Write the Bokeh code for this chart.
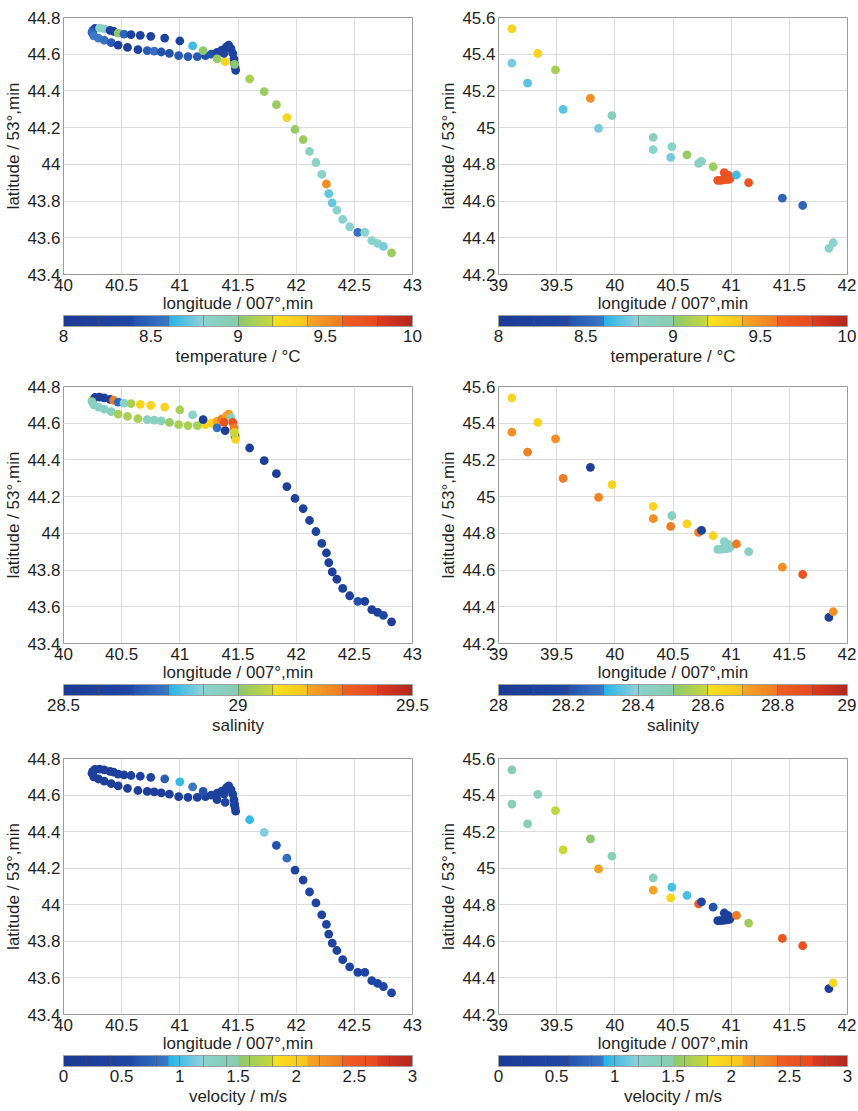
import numpy as np
from bokeh.plotting import figure
from bokeh.models import (ColumnDataSource, LinearColorMapper, ColorBar, FixedTicker,
                          PrintfTickFormatter, Title, Range1d)
from bokeh.layouts import column, row
from bokeh.embed import file_html
from bokeh.resources import INLINE

# ---------------- data: left track (longitude 40-43) ----------------
LEFT_LON = [40.25, 40.27, 40.31, 40.35, 40.40, 40.43, 40.47, 40.52, 40.58, 40.66, 40.75, 40.87, 41.00, 41.11,
            40.245, 40.26, 40.30, 40.35, 40.41, 40.47, 40.55, 40.64, 40.72, 40.78, 40.84, 40.91, 40.99, 41.07,
            41.15, 41.22, 41.27, 41.32, 41.36, 41.40, 41.42, 41.44, 41.455, 41.465, 41.47, 41.475, 41.48,
            41.20, 41.32, 41.39, 41.38, 41.47,
            41.60, 41.725, 41.83, 41.92, 41.99, 42.06, 42.115, 42.17, 42.22, 42.26, 42.28, 42.31, 42.35,
            42.40, 42.46, 42.53, 42.59, 42.65, 42.70, 42.75, 42.82]
LEFT_LAT = [44.728, 44.740, 44.742, 44.738, 44.730, 44.725, 44.715, 44.710, 44.707, 44.703, 44.697, 44.688, 44.672, 44.645,
            44.718, 44.700, 44.688, 44.676, 44.663, 44.650, 44.637, 44.625, 44.620, 44.617, 44.612, 44.605, 44.592, 44.587,
            44.587, 44.592, 44.600, 44.610, 44.622, 44.640, 44.650, 44.630, 44.605, 44.575, 44.550, 44.530, 44.512,
            44.620, 44.575, 44.560, 44.605, 44.545,
            44.465, 44.396, 44.325, 44.255, 44.190, 44.135, 44.070, 44.010, 43.945, 43.893, 43.840, 43.790, 43.750,
            43.700, 43.660, 43.630, 43.630, 43.585, 43.570, 43.553, 43.518]
LEFT_TEMP = [8.55, 8.3, 8.85, 8.85, 8.2, 8.2, 9.0, 8.5, 8.2, 8.2, 8.25, 8.25, 8.3, 8.65,
             8.5, 8.6, 8.6, 8.55, 8.45, 8.2, 8.2, 8.25, 8.45, 8.55, 8.4, 8.4, 8.45, 8.45,
             8.45, 8.4, 8.4, 8.3, 8.25, 8.2, 8.2, 8.2, 8.25, 8.25, 8.2, 8.3, 8.25,
             9.0, 9.05, 9.3, 8.3, 9.0,
             9.1, 9.05, 9.05, 9.3, 9.05, 9.05, 8.85, 8.85, 8.8, 9.5, 8.72, 8.72, 8.8,
             8.8, 8.8, 8.55, 8.8, 8.8, 8.8, 8.75, 9.05]
LEFT_SAL = [29.1, 28.55, 28.55, 28.55, 28.6, 29.3, 28.75, 28.9, 29.05, 29.15, 29.15, 29.15, 29.05, 28.9,
            28.95, 28.95, 28.93, 28.93, 28.95, 29.05, 29.05, 29.05, 28.93, 28.93, 28.95, 29.02, 29.05, 29.05,
            29.05, 29.15, 29.15, 29.2, 29.3, 29.2, 29.22, 28.95, 29.35, 29.3, 29.15, 28.55, 29.15,
            28.55, 28.78, 28.55, 29.35, 29.1,
            28.55, 28.55, 28.55, 28.6, 28.6, 28.6, 28.62, 28.62, 28.65, 28.55, 28.6, 28.6, 28.6,
            28.6, 28.6, 28.7, 28.6, 28.55, 28.6, 28.68, 28.55]
LEFT_VEL = [0.2, 0.2, 0.2, 0.2, 0.25, 0.25, 0.3, 0.3, 0.35, 0.35, 0.55, 0.7, 0.95, 0.9,
            0.2, 0.2, 0.2, 0.2, 0.2, 0.2, 0.2, 0.2, 0.2, 0.2, 0.2, 0.25, 0.3, 0.3,
            0.3, 0.3, 0.3, 0.3, 0.3, 0.3, 0.3, 0.3, 0.3, 0.3, 0.3, 0.3, 0.3,
            0.6, 0.3, 0.5, 0.3, 0.35,
            0.95, 1.15, 0.6, 0.8, 0.45, 0.45, 0.45, 0.45, 0.45, 0.45, 0.45, 0.45, 0.45,
            0.45, 0.5, 0.55, 0.5, 0.45, 0.5, 0.55, 0.55]

# ---------------- data: right track (longitude 39-42) ----------------
RIGHT_LON = [39.115, 39.115, 39.338, 39.25, 39.49, 39.79, 39.555, 39.975, 39.86, 40.33, 40.33, 40.49,
             40.48, 40.62, 40.72, 40.745, 40.845,
             40.885, 40.91, 40.935, 40.96, 40.985, 40.94, 40.955, 40.975, 40.995,
             41.045, 41.15, 41.44, 41.615, 41.84, 41.877]
RIGHT_LAT = [45.538, 45.351, 45.404, 45.242, 45.315, 45.160, 45.100, 45.066, 44.996, 44.947, 44.880, 44.896,
             44.838, 44.852, 44.805, 44.816, 44.787,
             44.713, 44.713, 44.715, 44.717, 44.720, 44.755, 44.745, 44.740, 44.730,
             44.742, 44.700, 44.616, 44.576, 44.342, 44.373]
RIGHT_TEMP = [9.3, 8.75, 9.3, 8.7, 9.1, 9.5, 8.7, 8.95, 8.75, 8.9, 8.8, 8.8,
              8.75, 9.05, 8.85, 8.85, 9.05,
              9.7, 9.7, 9.7, 9.7, 9.7, 9.7, 9.7, 9.7, 9.7,
              8.65, 9.7, 8.5, 8.5, 8.8, 8.8]
RIGHT_SAL = [28.65, 28.75, 28.65, 28.78, 28.75, 28.05, 28.8, 28.65, 28.78, 28.65, 28.75, 28.45,
             28.8, 28.65, 28.8, 28.1, 28.65,
             28.42, 28.42, 28.42, 28.42, 28.42, 28.42, 28.42, 28.42, 28.42,
             28.8, 28.45, 28.75, 28.85, 28.05, 28.75]
RIGHT_VEL = [1.45, 1.45, 1.4, 1.45, 1.75, 1.5, 1.8, 1.4, 2.15, 1.35, 2.1, 1.0,
             1.9, 1.0, 2.45, 0.55, 0.6,
             0.2, 0.2, 0.2, 0.2, 0.2, 0.5, 0.3, 0.2, 0.2,
             2.4, 1.6, 2.5, 2.6, 0.15, 1.9]

# ---------------- axes / tick labels ----------------
LEFT_XTICKS = [40, 40.5, 41, 41.5, 42, 42.5, 43]
LEFT_YTICKS = [43.4, 43.6, 43.8, 44, 44.2, 44.4, 44.6, 44.8]
RIGHT_XTICKS = [39, 39.5, 40, 40.5, 41, 41.5, 42]
RIGHT_YTICKS = [44.2, 44.4, 44.6, 44.8, 45, 45.2, 45.4, 45.6]

TEMP_TICKS = [8, 8.5, 9, 9.5, 10]
TEMP_BANDS = [8.2, 8.4, 8.6, 8.8, 9.0, 9.2, 9.4, 9.6, 9.8]
SAL_L_TICKS = [28.5, 29, 29.5]
SAL_L_BANDS = [28.6, 28.7, 28.8, 28.9, 29.0, 29.1, 29.2, 29.3, 29.4]
SAL_R_TICKS = [28, 28.2, 28.4, 28.6, 28.8, 29]
SAL_R_BANDS = [28.1, 28.2, 28.3, 28.4, 28.5, 28.6, 28.7, 28.8, 28.9]
VEL_TICKS = [0, 0.5, 1, 1.5, 2, 2.5, 3]
VEL_BANDS = [0.2, 0.4, 0.6, 0.8, 1.0, 1.2, 1.4, 1.6, 1.8, 2.0, 2.2, 2.4, 2.6, 2.8]

X_LABEL = "longitude / 007°,min"
Y_LABEL = "latitude / 53°,min"

FONT = "Liberation Sans"
TXT = "#1f1f1f"


def make_palette(n=256):
    stops = [(0.0, "#1c3a94"), (0.2, "#1f47a4"), (0.2, "#2352ae"), (0.3, "#3a78c8"),
             (0.3, "#22b4e8"), (0.4, "#90d2da"), (0.4, "#8ad2cc"), (0.5, "#86cdb0"),
             (0.5, "#8cc870"), (0.6, "#c8d838"), (0.6, "#f8e21e"), (0.7, "#f8c420"),
             (0.7, "#f6a623"), (0.8, "#f07a22"), (0.8, "#ee5e22"), (0.9, "#e84a20"),
             (0.9, "#e03a20"), (1.0, "#b0281e")]

    def rgb(h):
        return np.array([int(h[i:i + 2], 16) for i in (1, 3, 5)], dtype=float)

    out = []
    for i in range(n):
        t = (i + 0.5) / n
        for k in range(len(stops) - 1):
            a, ca = stops[k]
            b, cb = stops[k + 1]
            if b > a and a <= t <= b:
                f = (t - a) / (b - a)
                c = rgb(ca) * (1 - f) + rgb(cb) * f
                out.append("#%02x%02x%02x" % tuple(int(round(v)) for v in c))
                break
    return out


PAL = make_palette()


def panel(lon, lat, vals, low, high, cb_ticks, cb_bands, cb_title, xr, yr, xt, yt,
          left, right, top, bottom, fh):
    p = figure(frame_width=349, frame_height=fh, x_range=Range1d(*xr), y_range=Range1d(*yr),
               output_backend="svg", toolbar_location=None,
               min_border_left=left, min_border_right=right,
               min_border_top=top, min_border_bottom=bottom)
    p.background_fill_color = "white"
    p.border_fill_color = "white"
    p.outline_line_color = "#9a9a9a"
    mapper = LinearColorMapper(palette=PAL, low=low, high=high)
    src = ColumnDataSource(dict(x=lon, y=lat, v=vals))
    p.scatter("x", "y", source=src, size=8.8, fill_color={"field": "v", "transform": mapper},
              line_color=None)

    p.xaxis.ticker = FixedTicker(ticks=xt)
    p.yaxis.ticker = FixedTicker(ticks=yt)
    p.xgrid.ticker = FixedTicker(ticks=xt)
    p.ygrid.ticker = FixedTicker(ticks=yt)
    for ax in (p.xaxis, p.yaxis):
        ax.formatter = PrintfTickFormatter(format="%g")
        ax.axis_line_color = None
        ax.major_tick_line_color = None
        ax.minor_tick_line_color = None
        ax.major_tick_out = 0
        ax.major_tick_in = 0
        ax.minor_tick_out = 0
        ax.minor_tick_in = 0
        ax.major_label_text_font = FONT
        ax.major_label_text_font_size = "17px"
        ax.major_label_text_color = TXT
        ax.axis_label_text_font = FONT
        ax.axis_label_text_font_size = "17px"
        ax.axis_label_text_font_style = "normal"
        ax.axis_label_text_color = TXT
    p.xaxis.major_label_standoff = 4
    p.xaxis.axis_label_standoff = 0
    p.yaxis.major_label_standoff = 3
    p.yaxis.axis_label_standoff = 1
    p.xaxis.axis_label = X_LABEL
    p.yaxis.axis_label = Y_LABEL
    p.grid.grid_line_color = "#dcdcdc"
    p.grid.grid_line_width = 1

    cb = ColorBar(color_mapper=mapper, orientation="horizontal", height=11,
                  ticker=FixedTicker(ticks=cb_ticks, minor_ticks=cb_bands),
                  formatter=PrintfTickFormatter(format="%g"),
                  major_label_text_font=FONT, major_label_text_font_size="17px",
                  major_label_text_color=TXT,
                  major_tick_line_color=None, major_tick_in=0, major_tick_out=0,
                  minor_tick_line_color="#505050", minor_tick_line_alpha=0.45,
                  minor_tick_in=11, minor_tick_out=0,
                  bar_line_color="#a0a0a0", border_line_color=None,
                  background_fill_color=None,
                  padding=0, margin=1, label_standoff=3)
    p.add_layout(cb, "below")
    p.add_layout(Title(text=cb_title, align="center", text_font=FONT, text_font_size="17px",
                       text_font_style="normal", text_color=TXT, standoff=0), "below")
    return p


LL, LR = 63, 21
RL, RR = 65, 9
# (top border, min bottom border, frame height) per row
rows_spec = [(17, 104, 257), (8, 107, 257), (8, 40, 256)]
datasets = [
    (LEFT_TEMP, 8, 10, TEMP_TICKS, TEMP_BANDS, RIGHT_TEMP, 8, 10, TEMP_TICKS, TEMP_BANDS, "temperature / °C"),
    (LEFT_SAL, 28.5, 29.5, SAL_L_TICKS, SAL_L_BANDS, RIGHT_SAL, 28, 29, SAL_R_TICKS, SAL_R_BANDS, "salinity"),
    (LEFT_VEL, 0, 3, VEL_TICKS, VEL_BANDS, RIGHT_VEL, 0, 3, VEL_TICKS, VEL_BANDS, "velocity / m/s"),
]

rows = []
for (top, bot, fh), d in zip(rows_spec, datasets):
    lv, llo, lhi, lt, lb, rv, rlo, rhi, rt, rb, title = d
    pl = panel(LEFT_LON, LEFT_LAT, lv, llo, lhi, lt, lb, title, (40, 43), (43.4, 44.8),
               LEFT_XTICKS, LEFT_YTICKS, LL, LR, top, bot, fh)
    pr = panel(RIGHT_LON, RIGHT_LAT, rv, rlo, rhi, rt, rb, title, (39, 42), (44.2, 45.6),
               RIGHT_XTICKS, RIGHT_YTICKS, RL, RR, top, bot, fh)
    rows.append(row(pl, pr))

layout = column(*rows)
open("out.html", "w").write(file_html(layout, INLINE))
